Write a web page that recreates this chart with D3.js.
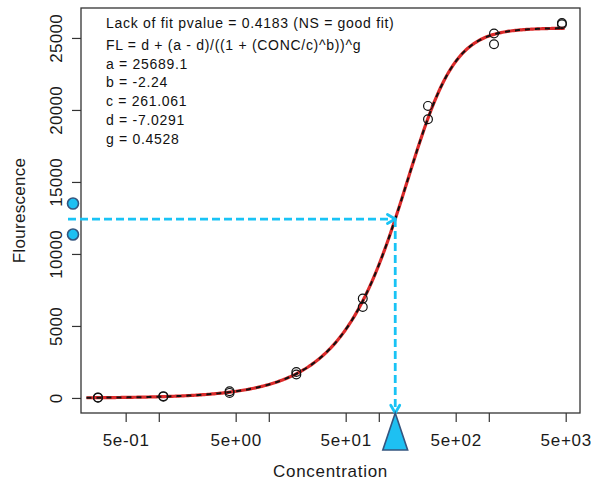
<!DOCTYPE html>
<html>
<head>
<meta charset="utf-8">
<script src="https://cdn.jsdelivr.net/npm/d3@7"></script>
<style>
  html, body { margin: 0; padding: 0; background: #fff; }
  svg { display: block; font-family: "Liberation Sans", Arial, sans-serif; }
</style>
</head>
<body>
<svg id="chart" width="591" height="480"></svg>
<script>
// Standard curve: concentration vs. fluorescence (duplicate wells)
const conc  = [0.28, 0.28, 1.1, 1.1, 4.4, 4.4, 17.8, 17.8, 71.5, 71.5, 280, 280, 1115, 1115, 4620, 4620];
const fluor = [15, 40, 90, 125, 350, 465, 1625, 1805, 6320, 6900, 19350, 20280, 24560, 25310, 25950, 26040];

// Unknown sample readings (duplicates)
const unknownFL = [13500, 11350];

// 5-parameter logistic fit
const paramNames  = ["a", "b", "c", "d", "g"];
const paramValues = [25689.1, -2.24, 261.061, -7.0291, 0.4528];
const fitTitle   = "Lack of fit pvalue = 0.4183 (NS = good fit)";
const fitFormula = "FL = d + (a - d)/((1 + (CONC/c)^b))^g";

// Axis ticks
const xTicks      = [0.5, 1, 5, 10, 50, 100, 500, 1000, 5000];
const xTickLabels = ["5e-01", "", "5e+00", "", "5e+01", "", "5e+02", "", "5e+03"];
const yTicks      = [0, 5000, 10000, 15000, 20000, 25000];
const curveRange  = [0.22, 4900];

const [pa, pb, pc, pd, pg] = paramValues;
const model   = x => pd + (pa - pd) / Math.pow(1 + Math.pow(x / pc, pb), pg);
const inverse = f => pc * Math.pow(Math.pow((pa - pd) / (f - pd), 1 / pg) - 1, 1 / pb);

const svg = d3.select("#chart");
const L = 81, R = 580, T = 8, B = 413;

const x = d3.scaleLog().domain([0.1963, 6745]).range([L, R]);
const y = d3.scaleLinear().domain([-1045, 27080]).range([B, T]);

const axisColor = "#333";

// X axis
const gx = svg.append("g")
  .attr("transform", `translate(0,${B})`)
  .call(d3.axisBottom(x).tickValues(xTicks).tickFormat((d, i) => xTickLabels[i]).tickSize(9).tickPadding(11.5));
gx.select(".domain").remove();
gx.selectAll("line").attr("stroke", axisColor).attr("stroke-width", 1.2);
gx.selectAll("text").attr("fill", "#1a1a1a").style("font-size", "17px").style("letter-spacing", "0.7px")
  .style("font-family", "'Liberation Sans', Arial, sans-serif");

// Y axis with rotated labels
const gy = svg.append("g")
  .attr("transform", `translate(${L},0)`)
  .call(d3.axisLeft(y).tickValues(yTicks).tickFormat(d3.format("d")).tickSize(9));
gy.select(".domain").remove();
gy.selectAll("line").attr("stroke", axisColor).attr("stroke-width", 1.2);
gy.selectAll("text")
  .attr("x", 0).attr("dy", 0)
  .attr("text-anchor", "middle")
  .attr("transform", "translate(-19,0) rotate(-90)")
  .attr("fill", "#1a1a1a").style("font-size", "17px").style("letter-spacing", "0.3px")
  .style("font-family", "'Liberation Sans', Arial, sans-serif");

// Plot frame
svg.append("rect")
  .attr("x", L).attr("y", T).attr("width", R - L).attr("height", B - T)
  .attr("fill", "none").attr("stroke", axisColor).attr("stroke-width", 1.3);

// Axis titles
svg.append("text")
  .attr("x", (L + R) / 2).attr("y", 477)
  .attr("text-anchor", "middle").attr("fill", "#1a1a1a")
  .style("font-size", "17px").style("letter-spacing", "0.7px")
  .text("Concentration");
svg.append("text")
  .attr("transform", `translate(25,${(T + B) / 2}) rotate(-90)`)
  .attr("text-anchor", "middle").attr("fill", "#1a1a1a")
  .style("font-size", "17px").style("letter-spacing", "0.3px")
  .text("Flourescence");

// Fitted curve: red line with black dashes on top
const logs = d3.range(0, 301).map(i => Math.log10(curveRange[0]) + i / 300 * (Math.log10(curveRange[1]) - Math.log10(curveRange[0])));
const curvePts = logs.map(l => [Math.pow(10, l), model(Math.pow(10, l))]);
const line = d3.line().x(d => x(d[0])).y(d => y(d[1]));
svg.append("path").datum(curvePts).attr("d", line)
  .attr("fill", "none").attr("stroke", "#dc2a2a").attr("stroke-width", 3.2);
svg.append("path").datum(curvePts).attr("d", line)
  .attr("fill", "none").attr("stroke", "#111").attr("stroke-width", 2).attr("stroke-dasharray", "5,5");

// Standards as open circles
svg.append("g").selectAll("circle").data(conc).join("circle")
  .attr("cx", d => x(d)).attr("cy", (d, i) => y(fluor[i])).attr("r", 4.4)
  .attr("fill", "none").attr("stroke", "#111").attr("stroke-width", 1.2);

// Interpolated concentration of the unknown
const meanFL = d3.mean(unknownFL);
const estConc = inverse(meanFL);
const px = x(estConc), py = y(meanFL);
const blue = "#19c3f5";

function arrowHead(tipX, tipY, angle) {
  const len = 9, spread = Math.PI / 6;
  [angle + Math.PI - spread, angle + Math.PI + spread].forEach(a => {
    svg.append("line")
      .attr("x1", tipX).attr("y1", tipY)
      .attr("x2", tipX + len * Math.cos(a)).attr("y2", tipY + len * Math.sin(a))
      .attr("stroke", blue).attr("stroke-width", 2.8).attr("stroke-linecap", "round");
  });
}

svg.append("line")
  .attr("x1", 68).attr("y1", py).attr("x2", px).attr("y2", py)
  .attr("stroke", blue).attr("stroke-width", 2.8).attr("stroke-dasharray", "8,4");
arrowHead(px, py, 0);
svg.append("line")
  .attr("x1", px).attr("y1", py).attr("x2", px).attr("y2", B)
  .attr("stroke", blue).attr("stroke-width", 2.8).attr("stroke-dasharray", "8,4");
arrowHead(px, B, Math.PI / 2);

// Unknown readings drawn in the left margin
svg.append("g").selectAll("circle").data(unknownFL).join("circle")
  .attr("cx", x(x.domain()[0]) - 8).attr("cy", d => y(d)).attr("r", 5.5)
  .attr("fill", "#1ec0f2").attr("stroke", "#34557f").attr("stroke-width", 1.6);

// Triangle marking the estimate on the x axis
svg.append("path")
  .attr("d", `M${px},${B} L${px - 12.4},450 L${px + 12.4},450 Z`)
  .attr("fill", "#1ec0f2").attr("stroke", "#34557f").attr("stroke-width", 1.6);

// Fit annotation
const notes = [fitFormula].concat(paramNames.map((n, i) => `${n} = ${paramValues[i]}`));
svg.append("text").attr("x", 106).attr("y", 28).attr("fill", "#111")
  .style("font-size", "14px").style("letter-spacing", "0.7px").text(fitTitle);
svg.append("g").selectAll("text").data(notes).join("text")
  .attr("x", 106).attr("y", (d, i) => 50 + i * 18.7).attr("fill", "#111")
  .style("font-size", "14px").style("letter-spacing", "0.7px").text(d => d);
</script>
</body>
</html>
